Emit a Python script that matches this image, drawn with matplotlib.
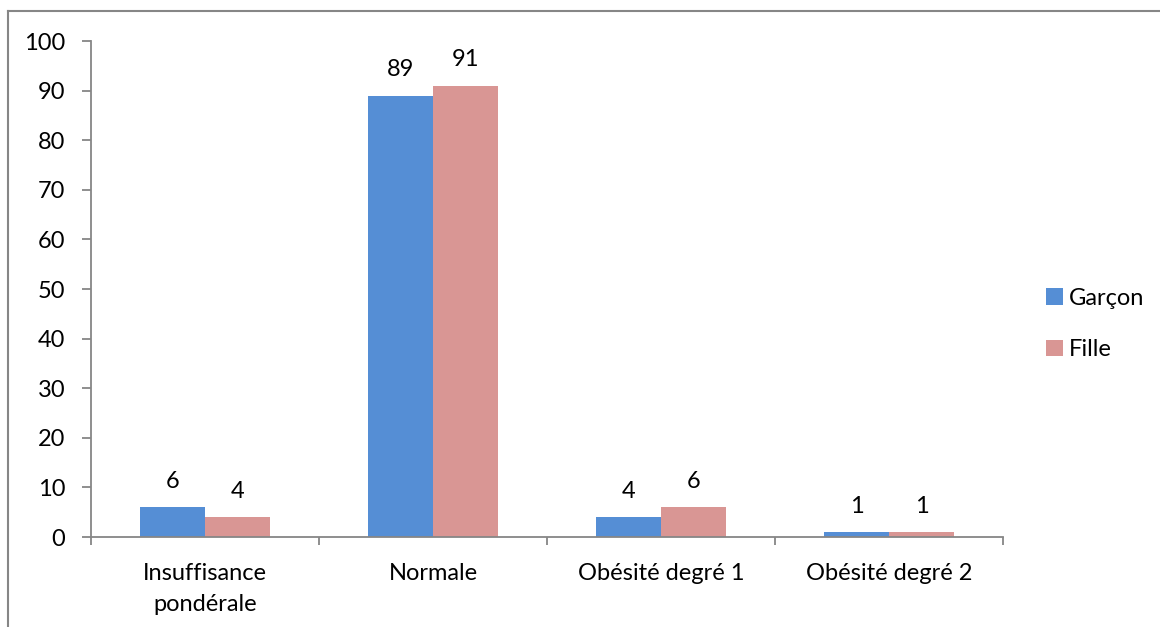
import matplotlib
matplotlib.use("Agg")
import matplotlib.pyplot as plt
from matplotlib.lines import Line2D
import numpy as np

plt.rcParams['font.family'] = ['Lato', 'DejaVu Sans']

categories = ["Insuffisance\npondérale", "Normale", "Obésité degré 1", "Obésité degré 2"]
garcon = [6, 89, 4, 1]
fille = [4, 91, 6, 1]
series_names = ["Garçon", "Fille"]
yticks = [0, 10, 20, 30, 40, 50, 60, 70, 80, 90, 100]

blue = "#558ED5"
pink = "#D99694"
grey = "#868686"
fs = 17

fig = plt.figure(figsize=(11.6, 6.27), dpi=100)
ax = fig.add_axes([91/1160, 1 - 537/627, (1003 - 91)/1160, (537 - 41)/627])

x = np.arange(len(categories))
w = 65/228
b1 = ax.bar(x - w/2, garcon, w, color=blue, label=series_names[0])
b2 = ax.bar(x + w/2, fille, w, color=pink, label=series_names[1])

for bars, vals in ((b1, garcon), (b2, fille)):
    for r, v in zip(bars, vals):
        ax.annotate(f"{v}", (r.get_x() + r.get_width()/2, v), xytext=(0, 11),
                    textcoords="offset points", ha="center", va="bottom", fontsize=fs)

ax.set_xlim(-0.5, len(categories) - 0.5)
ax.set_ylim(0, 100)
ax.set_yticks(yticks)
ax.set_xticks(np.arange(len(categories) + 1) - 0.5, minor=False)
ax.set_xticklabels([])
ax.set_xticks(x, minor=True)
ax.set_xticklabels(categories, minor=True, fontsize=fs, linespacing=1.55)
ax.tick_params(axis="x", which="minor", length=0, pad=19)
ax.tick_params(axis="x", which="major", length=6, color=grey, width=1.3)
ax.tick_params(axis="y", length=6.5, color=grey, width=1.3, labelsize=fs, pad=12)

for s in ("top", "right"):
    ax.spines[s].set_visible(False)
for s in ("left", "bottom"):
    ax.spines[s].set_color(grey)
    ax.spines[s].set_linewidth(1.3)

leg = fig.legend(handles=[b1, b2], labels=series_names, loc="center left",
                 bbox_to_anchor=(1046/1160, 1 - 324/627), frameon=False, fontsize=fs,
                 handlelength=0.7, handleheight=0.7, handletextpad=0.25, labelspacing=1.3,
                 borderpad=0.0, borderaxespad=0.0)

# outer frame of the chart area
fig.add_artist(Line2D([8/1160, 8/1160], [0, 1 - 11/627], color=grey, lw=1.5, transform=fig.transFigure))
fig.add_artist(Line2D([8/1160, 1], [1 - 11/627, 1 - 11/627], color=grey, lw=1.5, transform=fig.transFigure))

fig.savefig("out.png", dpi=100)
